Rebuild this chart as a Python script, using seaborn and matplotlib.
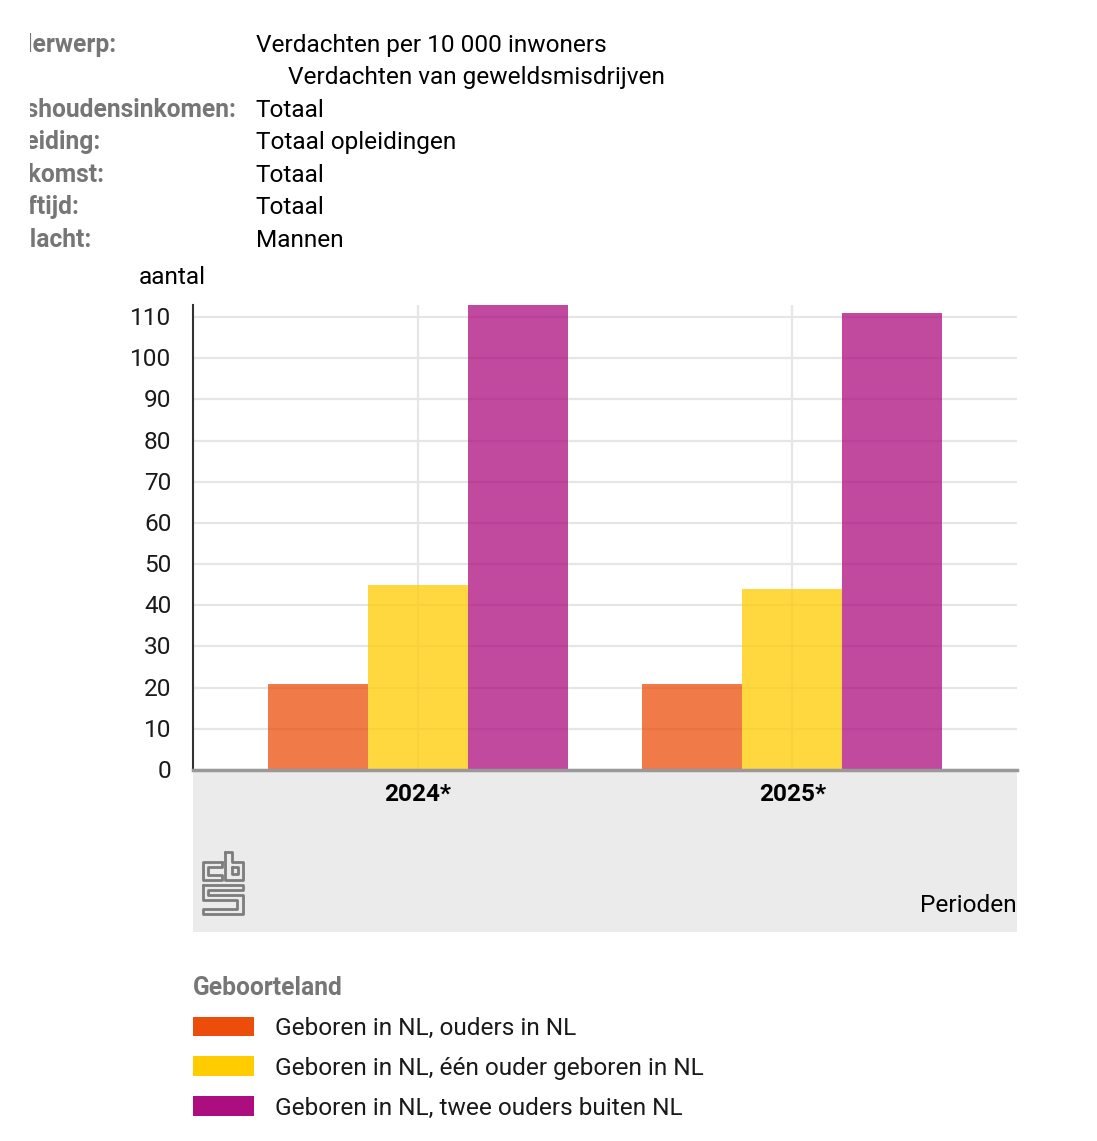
import matplotlib
matplotlib.use("Agg")
import pandas as pd
import seaborn as sns
from matplotlib import pyplot as plt
from matplotlib.patches import Patch, Rectangle
from matplotlib.transforms import ScaledTranslation

periods = ["2024*", "2025*"]
origin = ["Geboren in NL, ouders in NL", "Geboren in NL, één ouder geboren in NL", "Geboren in NL, twee ouders buiten NL"]
parents_nl = [21, 21]
one_parent_nl = [45, 44]
parents_abroad = [113, 111]
colors = ["#ec4d0a", "#ffcc00", "#ac0d7f"]
y_ticks = [0, 10, 20, 30, 40, 50, 60, 70, 80, 90, 100, 110]

filter_names = ["Onderwerp:", "Huishoudensinkomen:", "Opleiding:", "Herkomst:", "Leeftijd:", "Geslacht:"]
filter_rows = [45, 110, 142, 175, 207, 240]
filter_values = ["Verdachten per 10 000 inwoners", "Totaal", "Totaal opleidingen", "Totaal", "Totaal", "Mannen"]

W, H = 1097, 1141
sns.set_theme(style="white")
plt.rcParams["font.family"] = ["Roboto", "DejaVu Sans"]
fs = 17.6  # about 24 px at dpi 100

df = pd.DataFrame({
    "Perioden": periods * 3,
    "Geboorteland": [origin[0]] * 2 + [origin[1]] * 2 + [origin[2]] * 2,
    "aantal": parents_nl + one_parent_nl + parents_abroad,
})

fig = plt.figure(figsize=(W / 100, H / 100), dpi=100, facecolor="white")

# page layer in pixel coordinates, for everything around the plot
page = fig.add_axes([0, 0, 1, 1])
page.set_xlim(0, W)
page.set_ylim(H, 0)
page.axis("off")
page.add_patch(Rectangle((193, 771), 824, 161, color="#ebebeb", lw=0))

# left labels are cut off at x=30 in the original
clip = Rectangle((30, 0), W, H, transform=page.transData)
for name, row in zip(filter_names, filter_rows):
    t = page.text(-12, row, name, fontsize=17.75, fontweight="bold", color="#767676", va="center", clip_on=True)
    t.set_clip_path(clip)
for value, row in zip(filter_values, filter_rows):
    page.text(255.5, row + 0.5, value, fontsize=fs, color="black", va="center")
page.text(288, 77.5, "Verdachten van geweldsmisdrijven", fontsize=fs, color="black", va="center")
page.text(139, 278, "aantal", fontsize=fs, color="black", va="center")
page.text(1017, 905, "Perioden", fontsize=fs, color="black", va="center", ha="right")

# cbs logo
logo = [
    [(222, 862), (203, 862), (203, 880), (222, 880), (222, 875), (208, 875), (208, 867), (222, 867), (222, 862)],
    [(225, 852), (232, 852), (232, 862), (243, 862), (243, 880), (225, 880), (225, 852)],
    [(232, 867), (238, 867), (238, 874), (232, 874), (232, 867)],
    [(203, 885), (243, 885), (243, 890), (208, 890), (208, 895), (243, 895), (243, 914), (203, 914),
     (203, 909), (237, 909), (237, 900), (203, 900), (203, 885)],
]
for part in logo:
    page.plot([p[0] for p in part], [p[1] for p in part], color="#7d7d7d", lw=2.0, solid_joinstyle="round")

# plot area
ax = fig.add_axes([193 / W, 1 - 770 / H, 824 / W, 465 / H])
ax.patch.set_alpha(0)
sns.barplot(data=df, x="Perioden", y="aantal", hue="Geboorteland", hue_order=origin, palette=colors,
            width=0.8, gap=0, saturation=1, alpha=0.75, linewidth=0, legend=False, ax=ax, zorder=2)
ax.set_xlim(-0.6, 1.6)
ax.set_ylim(0, 465 / 4.118)
ax.set_yticks(y_ticks)
ax.set_xlabel("")
ax.set_ylabel("")
ax.grid(True, color="#e6e6e6", lw=1.6)
ax.set_axisbelow(True)
ax.tick_params(axis="y", length=0, pad=15.5, labelsize=fs, labelcolor="#1a1a1a")
ax.tick_params(axis="x", length=0, pad=9.5, labelsize=fs, labelcolor="black")
for label in ax.get_xticklabels():
    label.set_fontweight("bold")
# y labels sit a pixel higher than the grid lines
for label in ax.get_yticklabels():
    label.set_transform(label.get_transform() + ScaledTranslation(0, 0.01, fig.dpi_scale_trans))
sns.despine(ax=ax, top=True, right=True)
ax.spines["left"].set_color("#333333")
ax.spines["left"].set_linewidth(1.5)
ax.spines["bottom"].set_color("#999999")
ax.spines["bottom"].set_linewidth(2.5)

handles = [Patch(color=c, lw=0) for c in colors]
leg = fig.legend(handles, origin, title="Geboorteland", loc="upper left",
                 bbox_to_anchor=(193 / W, 1 - 976 / H), frameon=False, fontsize=fs,
                 alignment="left", borderpad=0, borderaxespad=0, handlelength=2.5,
                 handleheight=0.85, handletextpad=0.85, labelspacing=0.68,
                 labelcolor="#1a1a1a")
leg.get_title().set_fontsize(17.75)
leg.get_title().set_fontweight("bold")
leg.get_title().set_color("#767676")

fig.savefig("out.png", dpi=100)
